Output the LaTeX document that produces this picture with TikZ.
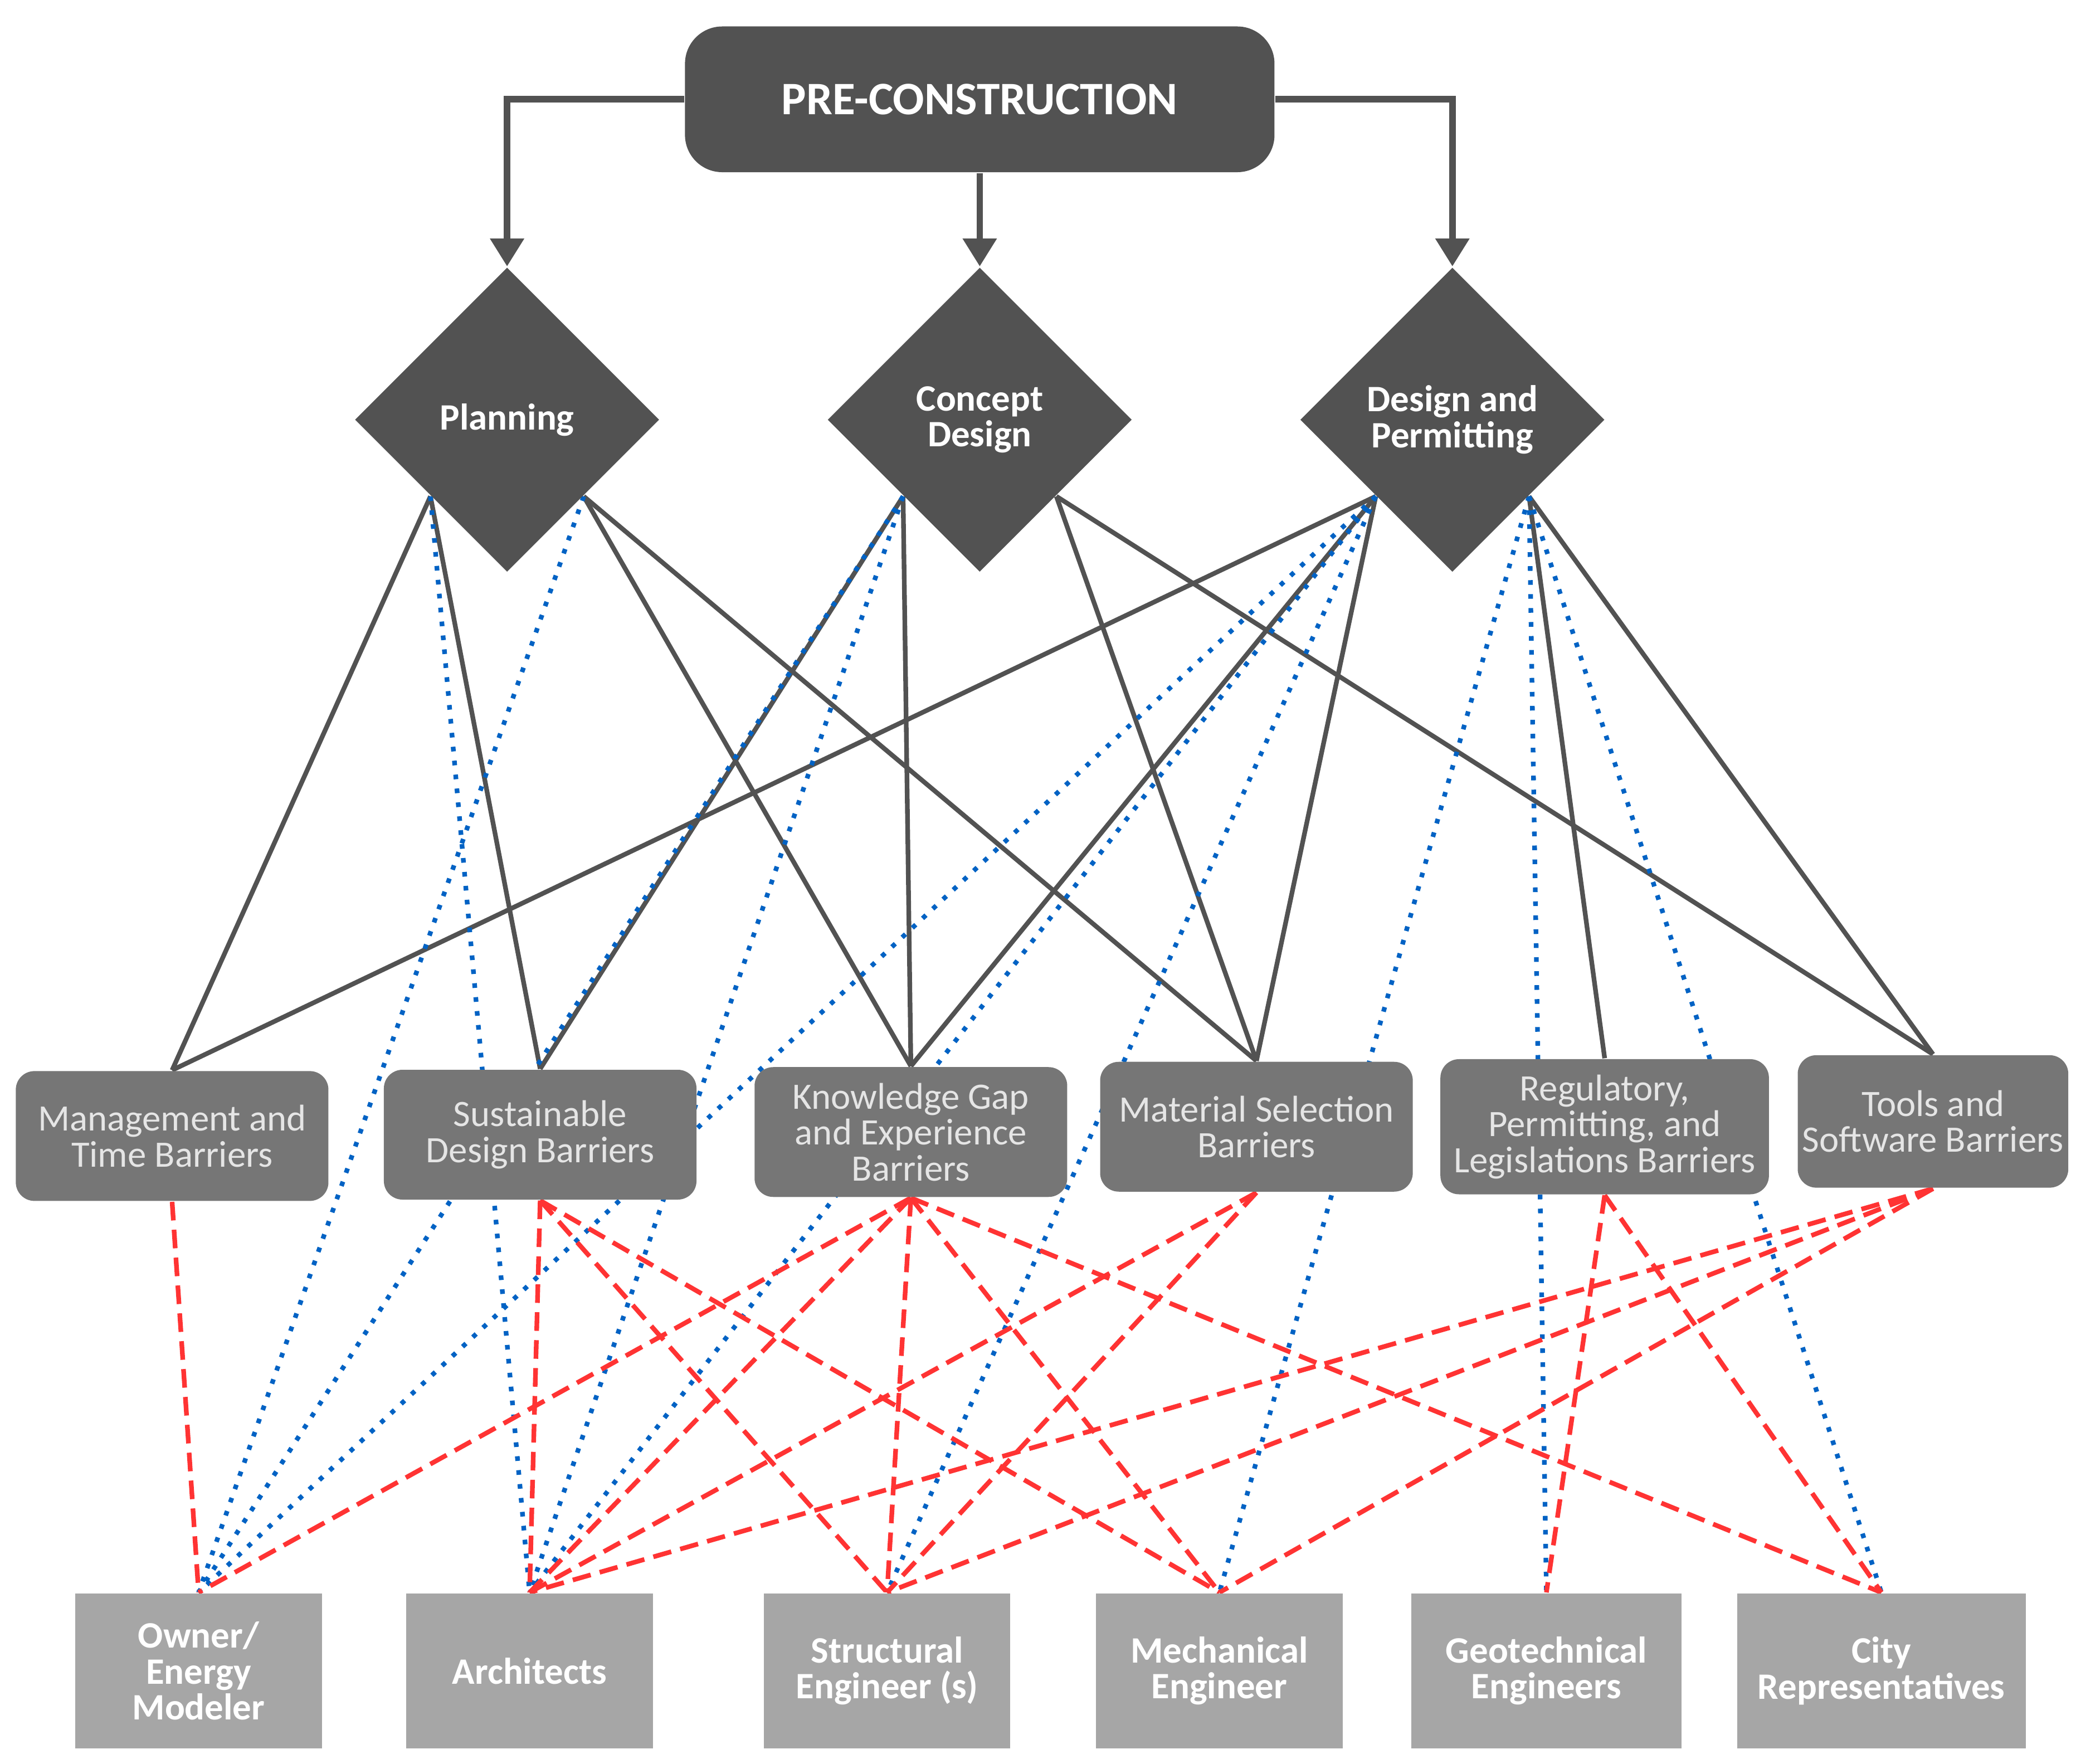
\documentclass[tikz,border=0pt]{standalone}
\usepackage{fontspec}
\setmainfont{Carlito}
\usetikzlibrary{arrows.meta, shapes.geometric, backgrounds, calc}
\definecolor{dkgray}{HTML}{525252}
\definecolor{midgray}{HTML}{767676}
\definecolor{ltgray}{HTML}{A6A6A6}
\definecolor{lnblue}{HTML}{0062C4}
\definecolor{lnred}{HTML}{FF3333}

\begin{document}
\begin{tikzpicture}[x=0.01cm, y=-0.01cm,
    phase/.style={diamond, fill=dkgray, text=white, font=\bfseries\fontsize{8}{7.7}\selectfont, align=center, inner sep=0pt, minimum size=2.3cm},
    barrier/.style={rectangle, rounded corners=4pt, fill=midgray, text=white!90!black, font=\fontsize{8}{7.7}\selectfont, align=center, inner sep=1pt, minimum width=2.36cm, minimum height=0.98cm},
    actor/.style={rectangle, fill=ltgray, text=white, font=\bfseries\fontsize{8}{7.7}\selectfont, align=center, inner sep=1pt, minimum width=1.86cm, minimum height=1.17cm},
    arr/.style={-{Triangle[length=6pt, width=7pt]}, line width=1.4pt, draw=dkgray},
    solid link/.style={draw=dkgray, line width=1pt},
    blue link/.style={draw=lnblue, line width=1pt, dotted},
    red link/.style={draw=lnred, line width=1pt, dash pattern=on 4pt off 2pt}]
	\useasboundingbox (0,0) rectangle (1568,1332);

	\node[rectangle, rounded corners=8pt, fill=dkgray, text=white, font=\bfseries\normalsize, minimum width=4.45cm, minimum height=1.1cm] (pre) at (740,75) {PRE-CONSTRUCTION};

	\node[phase] (plan) at (383,317) {Planning};
	\node[phase] (conc) at (740,317) {Concept\\Design};
	\node[phase] (desg) at (1097,317) {Design and\\Permitting};

	\coordinate (planL) at ($(plan.south)!0.5!(plan.west)$);
	\coordinate (planR) at ($(plan.south)!0.5!(plan.east)$);
	\coordinate (concL) at ($(conc.south)!0.5!(conc.west)$);
	\coordinate (concR) at ($(conc.south)!0.5!(conc.east)$);
	\coordinate (desgL) at ($(desg.south)!0.5!(desg.west)$);
	\coordinate (desgR) at ($(desg.south)!0.5!(desg.east)$);

	\node[barrier] (mgmt) at (130,858) {Management and\\Time Barriers};
	\node[barrier] (sust) at (408,857) {Sustainable\\Design Barriers};
	\node[barrier] (know) at (688,855) {Knowledge Gap\\and Experience\\Barriers};
	\node[barrier] (matl) at (949,851) {Material Selection\\Barriers};
	\node[barrier, minimum width=2.48cm, minimum height=1.02cm] (regu) at (1212,851) {Regulatory,\\Permitting, and\\Legislations Barriers};
	\node[barrier, minimum width=2cm, minimum height=1cm] (tool) at (1460,847) {Tools and\\Software Barriers};

	\node[actor] (owner) at (150,1262) {Owner/\\Energy\\Modeler};
	\node[actor] (arch) at (400,1262) {Architects};
	\node[actor] (struc) at (670,1262) {Structural\\Engineer (s)};
	\node[actor] (mech) at (921,1262) {Mechanical\\Engineer};
	\node[actor, minimum width=2.04cm] (geo) at (1168,1262) {Geotechnical\\Engineers};
	\node[actor, minimum width=2.18cm] (city) at (1421,1262) {City\\Representatives};

	\draw[arr] (pre.west) -| (plan.north);
	\draw[arr] (pre.south) -- (conc.north);
	\draw[arr] (pre.east) -| (desg.north);

	\begin{scope}[on background layer]
		% phases to barriers
		\draw[solid link] (planL) -- (mgmt.north);
		\draw[solid link] (planL) -- (sust.north);
		\draw[solid link] (planR) -- (know.north);
		\draw[solid link] (planR) -- (matl.north);
		\draw[solid link] (concL) -- (sust.north);
		\draw[solid link] (concL) -- (know.north);
		\draw[solid link] (concR) -- (matl.north);
		\draw[solid link] (concR) -- (tool.north);
		\draw[solid link] (desgL) -- (mgmt.north);
		\draw[solid link] (desgL) -- (know.north);
		\draw[solid link] (desgL) -- (matl.north);
		\draw[solid link] (desgR) -- (regu.north);
		\draw[solid link] (desgR) -- (tool.north);

		% phases to stakeholders
		\draw[blue link] (planR) -- (owner.north);
		\draw[blue link] (planL) -- (arch.north);
		\draw[blue link] (concL) -- (owner.north);
		\draw[blue link] (concL) -- (arch.north);
		\draw[blue link] (desgL) -- (owner.north);
		\draw[blue link] (desgL) -- (arch.north);
		\draw[blue link] (desgL) -- (struc.north);
		\draw[blue link] (desgR) -- (mech.north);
		\draw[blue link] (desgR) -- (geo.north);
		\draw[blue link] (desgR) -- (city.north);

		% barriers to stakeholders
		\draw[red link] (mgmt.south) -- (owner.north);
		\draw[red link] (sust.south) -- (arch.north);
		\draw[red link] (sust.south) -- (struc.north);
		\draw[red link] (sust.south) -- (mech.north);
		\draw[red link] (know.south) -- (owner.north);
		\draw[red link] (know.south) -- (arch.north);
		\draw[red link] (know.south) -- (struc.north);
		\draw[red link] (know.south) -- (mech.north);
		\draw[red link] (know.south) -- (city.north);
		\draw[red link] (matl.south) -- (arch.north);
		\draw[red link] (matl.south) -- (struc.north);
		\draw[red link] (regu.south) -- (geo.north);
		\draw[red link] (regu.south) -- (city.north);
		\draw[red link] (tool.south) -- (arch.north);
		\draw[red link] (tool.south) -- (struc.north);
		\draw[red link] (tool.south) -- (mech.north);
	\end{scope}
\end{tikzpicture}
\end{document}
